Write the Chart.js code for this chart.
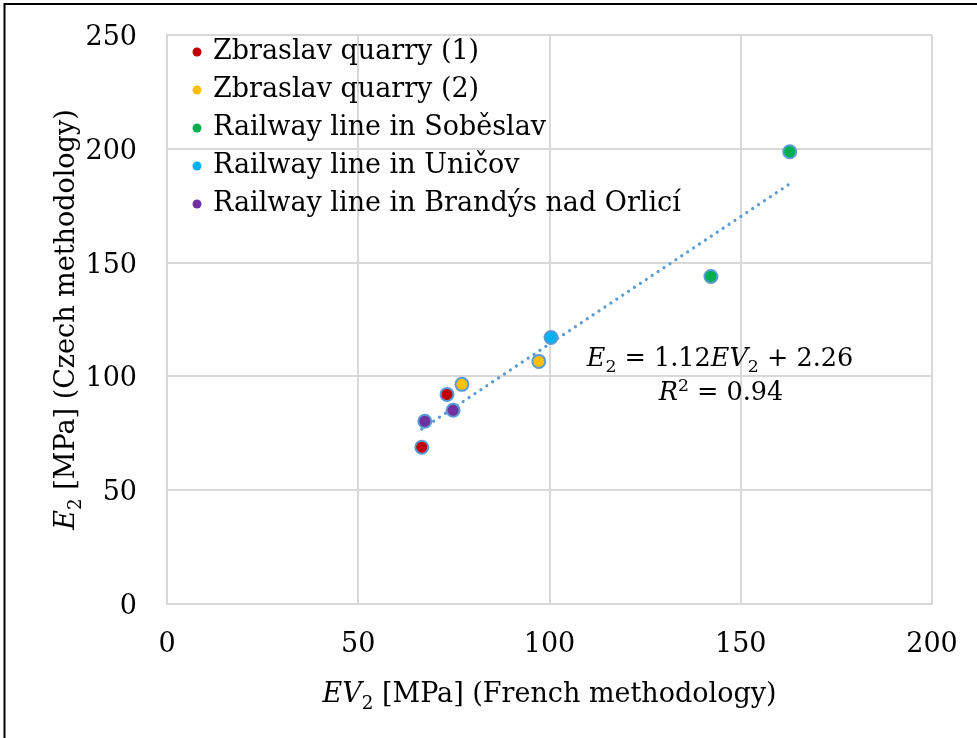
<!DOCTYPE html>
<html>
<head>
<meta charset="utf-8">
<script src="https://cdn.jsdelivr.net/npm/chart.js@4.4.0/dist/chart.umd.min.js"></script>
<style>
  html, body { margin: 0; padding: 0; background: #fff; }
  #wrap { width: 977px; height: 738px; position: relative; }
</style>
</head>
<body>
<div id="wrap"><canvas id="plot" width="977" height="738"></canvas></div>
<script>
// data
var seriesNames = ['Zbraslav quarry (1)', 'Zbraslav quarry (2)', 'Railway line in Soběslav',
  'Railway line in Uničov', 'Railway line in Brandýs nad Orlicí'];
var seriesColors = ['#C00000', '#FFC000', '#00B050', '#00B0F0', '#7030A0'];
// EV2 (French) values
var ev2 = [
  [73.2, 66.6],
  [77.1, 97.2],
  [162.8, 142.2],
  [100.4],
  [67.4, 74.8]
];
// E2 (Czech) values
var e2 = [
  [92.1, 68.9],
  [96.5, 106.6],
  [198.7, 143.9],
  [117.1],
  [80.3, 85.1]
];
var xTicks = [0, 50, 100, 150, 200];
var yTicks = [0, 50, 100, 150, 200, 250];
// linear trend shown on the chart
var slope = 1.12;
var intercept = 2.26;
var r2 = 0.94;

var FONT = '"DejaVu Serif", serif';
var FS = 27;

var datasets = [];
for (var i = 0; i < seriesNames.length; i++) {
  var pts = [];
  for (var j = 0; j < ev2[i].length; j++) pts.push({x: ev2[i][j], y: e2[i][j]});
  datasets.push({
    label: seriesNames[i],
    data: pts,
    backgroundColor: seriesColors[i],
    borderColor: '#5B9BD5',
    borderWidth: 2,
    pointRadius: 6.5,
    order: 1
  });
}
var allX = [].concat.apply([], ev2);
var xmin = Math.min.apply(null, allX), xmax = Math.max.apply(null, allX);
datasets.push({
  type: 'line',
  label: 'trend',
  data: [{x: xmin, y: slope * xmin + intercept}, {x: xmax, y: slope * xmax + intercept}],
  borderColor: '#5B9BD5',
  borderWidth: 3.2,
  borderDash: [0.1, 7],
  borderCapStyle: 'round',
  pointRadius: 0,
  fill: false,
  order: 2
});

// draws text pieces: [text, italic, sub/sup]
function drawRich(ctx, parts, x, y, align, size) {
  var w = 0, i;
  for (i = 0; i < parts.length; i++) {
    var p = parts[i];
    var fs = p[2] ? size * 0.68 : size;
    ctx.font = (p[1] ? 'italic ' : '') + fs + 'px ' + FONT;
    w += ctx.measureText(p[0]).width;
  }
  var cx = align === 'center' ? x - w / 2 : x;
  for (i = 0; i < parts.length; i++) {
    var q = parts[i];
    var s = q[2] ? size * 0.68 : size;
    ctx.font = (q[1] ? 'italic ' : '') + s + 'px ' + FONT;
    var dy = q[2] === 'sub' ? size * 0.25 : (q[2] === 'sup' ? -size * 0.36 : 0);
    ctx.fillText(q[0], cx, y + dy);
    cx += ctx.measureText(q[0]).width;
  }
}

var extras = {
  id: 'extras',
  afterDraw: function(chart) {
    var ctx = chart.ctx, a = chart.chartArea;
    ctx.save();
    // outer frame (only left and top are inside the picture)
    ctx.strokeStyle = '#000';
    ctx.lineWidth = 2;
    ctx.beginPath();
    ctx.moveTo(4.5, 738); ctx.lineTo(4.5, 4); ctx.lineTo(977, 4);
    ctx.stroke();

    ctx.fillStyle = '#000';
    ctx.textBaseline = 'alphabetic';
    // x title
    drawRich(ctx, [['EV', true], ['2', false, 'sub'], [' [MPa] (French methodology)', false]],
      (a.left + a.right) / 2, 702, 'center', FS);
    // y title
    ctx.save();
    ctx.translate(74, (a.top + a.bottom) / 2);
    ctx.rotate(-Math.PI / 2);
    drawRich(ctx, [['E', true], ['2', false, 'sub'], [' [MPa] (Czech methodology)', false]], 0, 0, 'center', FS);
    ctx.restore();

    // equation
    drawRich(ctx, [['E', true], ['2', false, 'sub'], [' = ' + slope.toFixed(2), false], ['EV', true],
      ['2', false, 'sub'], [' + ' + intercept.toFixed(2), false]], 720, 366, 'center', 25.5);
    drawRich(ctx, [['R', true], ['2', false, 'sup'], [' = ' + r2.toFixed(2), false]], 721, 400, 'center', 25.5);

    // legend
    ctx.font = FS + 'px ' + FONT;
    ctx.textBaseline = 'middle';
    for (var i = 0; i < seriesNames.length; i++) {
      var ly = 52 + i * 38;
      ctx.fillStyle = seriesColors[i];
      ctx.beginPath();
      ctx.arc(197, ly, 4.5, 0, Math.PI * 2);
      ctx.fill();
      ctx.fillStyle = '#000';
      ctx.fillText(seriesNames[i], 213, ly);
    }
    ctx.restore();
  }
};

var chart = new Chart(document.getElementById('plot'), {
  type: 'scatter',
  data: { datasets: datasets },
  options: {
    responsive: false,
    animation: false,
    layout: { padding: { left: 0, top: 35, right: 45, bottom: 0 } },
    plugins: { legend: { display: false }, tooltip: { enabled: false } },
    scales: {
      x: {
        type: 'linear', min: 0, max: 200,
        afterBuildTicks: function(s) { s.ticks = xTicks.map(function(v) { return {value: v}; }); },
        afterFit: function(s) { s.height = 134; s.paddingLeft = 0; s.paddingRight = 0; },
        grid: { color: '#D9D9D9', lineWidth: 2, drawTicks: false },
        border: { color: '#D9D9D9', width: 2 },
        ticks: { color: '#000', padding: 25, font: { family: FONT, size: FS }, maxRotation: 0 }
      },
      y: {
        type: 'linear', min: 0, max: 250,
        afterBuildTicks: function(s) { s.ticks = yTicks.map(function(v) { return {value: v}; }); },
        afterFit: function(s) { s.width = 167; s.paddingTop = 0; s.paddingBottom = 0; },
        grid: { color: '#D9D9D9', lineWidth: 2, drawTicks: false },
        border: { color: '#D9D9D9', width: 2 },
        ticks: { color: '#000', padding: 30, labelOffset: 3, font: { family: FONT, size: FS } }
      }
    }
  },
  plugins: [extras]
});
</script>
</body>
</html>
